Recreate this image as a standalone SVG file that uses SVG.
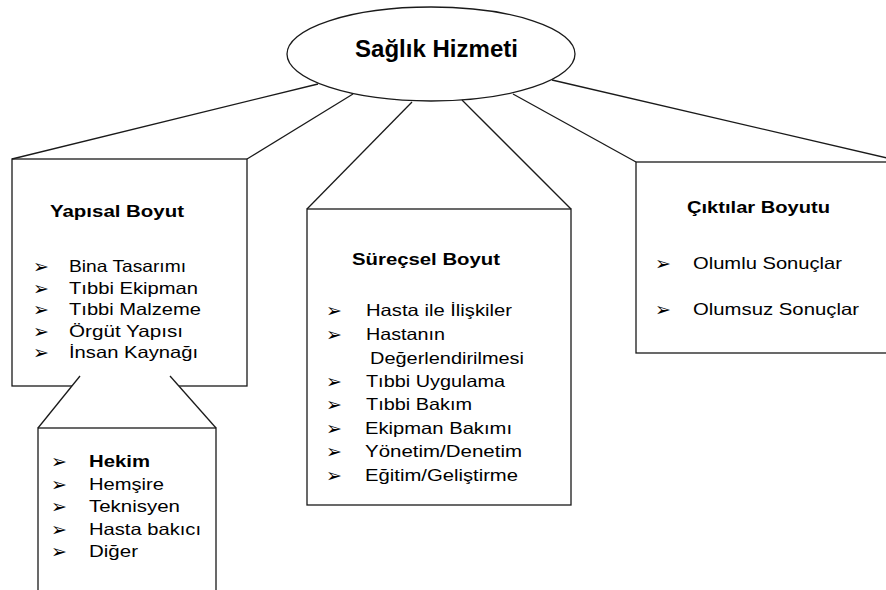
<svg xmlns="http://www.w3.org/2000/svg" width="886" height="590" viewBox="0 0 886 590">
  <style>
    .shape { fill: #ffffff; stroke: #1a1a1a; stroke-width: 1.3; }
    .cover { fill: #ffffff; stroke: none; }
    .conn line { stroke: #1a1a1a; stroke-width: 1.3; fill: none; }
    text { font-family: "Liberation Sans", Arial, sans-serif; fill: #000000; }
    .title { font-size: 23px; font-weight: bold; }
    .head { font-size: 16px; font-weight: bold; }
    .item { font-size: 16.5px; }
    .strong { font-weight: bold; }
    .bul text { font-family: "DejaVu Sans", sans-serif; font-size: 19px; }
  </style>

  <!-- boxes first, so the callout lines sit on top -->
  <g id="yapisal">
    <rect class="shape" x="12" y="159" width="235" height="227"/>
    <text class="head" x="50" y="217" textLength="134" lengthAdjust="spacingAndGlyphs">Yapısal Boyut</text>
    <g class="bul">
      <text x="33" y="273">➢</text>
      <text x="33" y="294.5">➢</text>
      <text x="33" y="316">➢</text>
      <text x="33" y="337.5">➢</text>
      <text x="33" y="359">➢</text>
    </g>
    <text class="item" x="69" y="272" textLength="117" lengthAdjust="spacingAndGlyphs">Bina Tasarımı</text>
    <text class="item" x="69" y="293.5" textLength="129" lengthAdjust="spacingAndGlyphs">Tıbbi Ekipman</text>
    <text class="item" x="69" y="315" textLength="132" lengthAdjust="spacingAndGlyphs">Tıbbi Malzeme</text>
    <text class="item" x="69" y="336.5" textLength="114" lengthAdjust="spacingAndGlyphs">Örgüt Yapısı</text>
    <text class="item" x="69" y="358" textLength="129" lengthAdjust="spacingAndGlyphs">İnsan Kaynağı</text>
  </g>

  <g id="personel">
    <polygon class="cover" points="80,376 170,376 216,428 38,428"/>
    <rect class="shape" x="38" y="428" width="178" height="170"/>
    <g class="bul">
      <text x="51" y="468">➢</text>
      <text x="51" y="490.5">➢</text>
      <text x="51" y="513">➢</text>
      <text x="51" y="536">➢</text>
      <text x="51" y="558">➢</text>
    </g>
    <text class="item strong" x="89" y="467" textLength="61" lengthAdjust="spacingAndGlyphs">Hekim</text>
    <text class="item" x="89" y="489.5" textLength="75" lengthAdjust="spacingAndGlyphs">Hemşire</text>
    <text class="item" x="89" y="512" textLength="91" lengthAdjust="spacingAndGlyphs">Teknisyen</text>
    <text class="item" x="89" y="535" textLength="112" lengthAdjust="spacingAndGlyphs">Hasta bakıcı</text>
    <text class="item" x="89" y="557" textLength="49" lengthAdjust="spacingAndGlyphs">Diğer</text>
  </g>

  <g id="surecsel">
    <rect class="shape" x="307" y="209" width="264" height="296"/>
    <text class="head" x="352" y="265" textLength="148" lengthAdjust="spacingAndGlyphs">Süreçsel Boyut</text>
    <g class="bul">
      <text x="326" y="317">➢</text>
      <text x="326" y="341">➢</text>
      <text x="326" y="388">➢</text>
      <text x="326" y="411">➢</text>
      <text x="326" y="435">➢</text>
      <text x="326" y="458">➢</text>
      <text x="326" y="482">➢</text>
    </g>
    <text class="item" x="366" y="316" textLength="146" lengthAdjust="spacingAndGlyphs">Hasta ile İlişkiler</text>
    <text class="item" x="366" y="340" textLength="79" lengthAdjust="spacingAndGlyphs">Hastanın</text>
    <text class="item" x="370" y="364" textLength="154" lengthAdjust="spacingAndGlyphs">Değerlendirilmesi</text>
    <text class="item" x="366" y="387" textLength="139" lengthAdjust="spacingAndGlyphs">Tıbbi Uygulama</text>
    <text class="item" x="366" y="410" textLength="106" lengthAdjust="spacingAndGlyphs">Tıbbi Bakım</text>
    <text class="item" x="365" y="434" textLength="147" lengthAdjust="spacingAndGlyphs">Ekipman Bakımı</text>
    <text class="item" x="365" y="457" textLength="157" lengthAdjust="spacingAndGlyphs">Yönetim/Denetim</text>
    <text class="item" x="365" y="481" textLength="153" lengthAdjust="spacingAndGlyphs">Eğitim/Geliştirme</text>
  </g>

  <g id="ciktilar">
    <rect class="shape" x="636" y="162" width="260" height="191"/>
    <text class="head" x="687" y="213" textLength="143" lengthAdjust="spacingAndGlyphs">Çıktılar Boyutu</text>
    <g class="bul">
      <text x="655" y="270">➢</text>
      <text x="655" y="316">➢</text>
    </g>
    <text class="item" x="693" y="269" textLength="149" lengthAdjust="spacingAndGlyphs">Olumlu Sonuçlar</text>
    <text class="item" x="693" y="315" textLength="166" lengthAdjust="spacingAndGlyphs">Olumsuz Sonuçlar</text>
  </g>

  <g id="saglik-hizmeti">
    <ellipse class="shape" cx="431" cy="54" rx="144" ry="47"/>
    <text class="title" x="355" y="57" textLength="163" lengthAdjust="spacingAndGlyphs">Sağlık Hizmeti</text>
  </g>

  <!-- callout lines joining the boxes to the ellipse and to each other -->
  <g id="connectors" class="conn">
    <line x1="12" y1="159" x2="318" y2="84"/>
    <line x1="247" y1="159" x2="353" y2="94"/>
    <line x1="307" y1="209" x2="412" y2="102"/>
    <line x1="571" y1="209" x2="462" y2="100"/>
    <line x1="636" y1="162" x2="513" y2="94"/>
    <line x1="900" y1="161" x2="552" y2="80"/>
    <line x1="80" y1="376" x2="38" y2="428"/>
    <line x1="170" y1="376" x2="216" y2="428"/>
  </g>
</svg>
